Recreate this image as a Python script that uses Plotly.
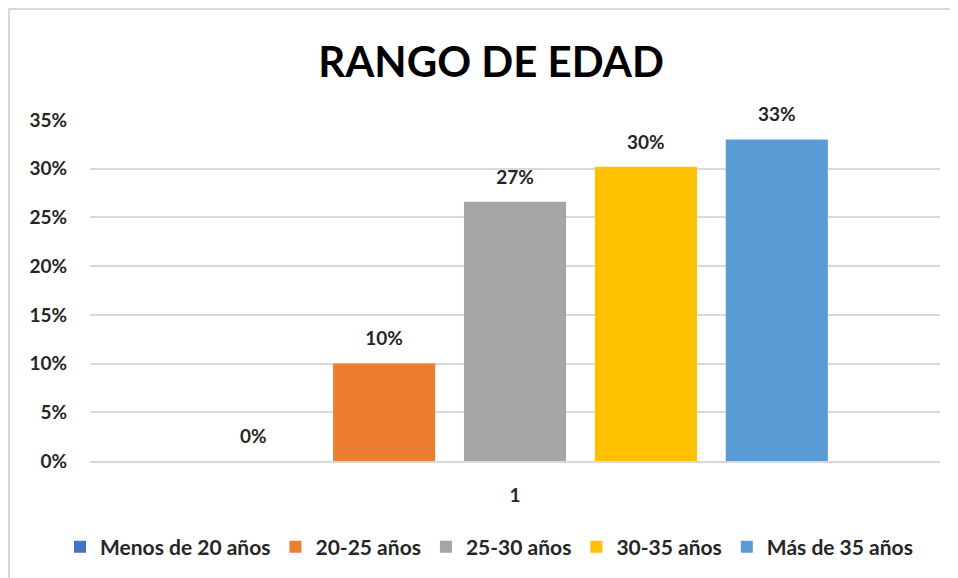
import plotly.graph_objects as go

categories = ["1"]
series_names = ["Menos de 20 años", "20-25 años", "25-30 años", "30-35 años", "Más de 35 años"]
series_values = [[0.0], [0.10], [0.266], [0.302], [0.33]]
series_colors = ["#4472C4", "#ED7D31", "#A5A5A5", "#FFC000", "#5B9BD5"]
tick_vals = [0, 0.05, 0.10, 0.15, 0.20, 0.25, 0.30, 0.35]
tick_text = ["0%", "5%", "10%", "15%", "20%", "25%", "30%", "35%"]

FONT = "Lato, 'Open Sans', Arial, sans-serif"
TXT = "#262626"

fig = go.Figure()
for name, vals, col in zip(series_names, series_values, series_colors):
    fig.add_trace(go.Bar(
        x=categories, y=vals, name=f"<b>{name}</b>",
        marker=dict(color=col, line=dict(width=0)),
        hoverinfo="skip",
    ))
# data labels: grouped scatter text placed above each bar
for name, vals in zip(series_names, series_values):
    fig.add_trace(go.Scatter(
        x=categories, y=vals, mode="markers+text", showlegend=False,
        marker=dict(size=20, opacity=0), hoverinfo="skip",
        texttemplate="<b>%{y:.0%}</b>", textposition="top center", cliponaxis=False,
        textfont=dict(family=FONT, size=19, color=TXT),
    ))

W, H = 950, 570
L, R, T, B = 82, 18, 112, 117
PH = H - T - B
PW = W - L - R

fig.update_layout(
    width=W, height=H,
    margin=dict(l=L, r=R, t=T, b=B, autoexpand=False),
    paper_bgcolor="white", plot_bgcolor="white",
    barmode="group", bargap=0.23, bargroupgap=0.22,
    scattermode="group", scattergap=0.23,
    title=dict(text="<b>RANGO DE EDAD</b>", x=483 / W, xanchor="center", y=0.905, yanchor="middle",
               font=dict(family=FONT, size=42, color="black")),
    font=dict(family=FONT, size=19, color=TXT),
    showlegend=True,
    legend=dict(orientation="h", x=(52 - L) / PW, xanchor="left", y=(453 - 539) / PH, yanchor="middle",
                font=dict(family=FONT, size=21, color=TXT), itemwidth=30,
                traceorder="normal"),
    yaxis=dict(range=[0, 0.35], tickvals=tick_vals, ticktext=[f"<b>{t}</b>" for t in tick_text],
               showgrid=True, gridcolor="#D9D9D9", gridwidth=1.5, zeroline=False,
               showline=False, ticks="", ticklabelstandoff=22,
               tickfont=dict(family=FONT, size=19, color=TXT)),
    xaxis=dict(type="category", showline=True, linecolor="#D9D9D9", linewidth=1.5,
               ticks="", tickvals=categories, ticktext=["<b>1</b>"], ticklabelstandoff=16,
               tickfont=dict(family=FONT, size=19, color=TXT)),
    shapes=[dict(type="rect", xref="paper", yref="paper",
                 x0=(1 - L) / PW, x1=(960 - L) / PW,
                 y0=(453 - 580) / PH, y1=(453 - 1) / PH,
                 line=dict(color="#D9D9D9", width=2), fillcolor="rgba(0,0,0,0)", layer="below")],
)

fig.write_html("out.html")
